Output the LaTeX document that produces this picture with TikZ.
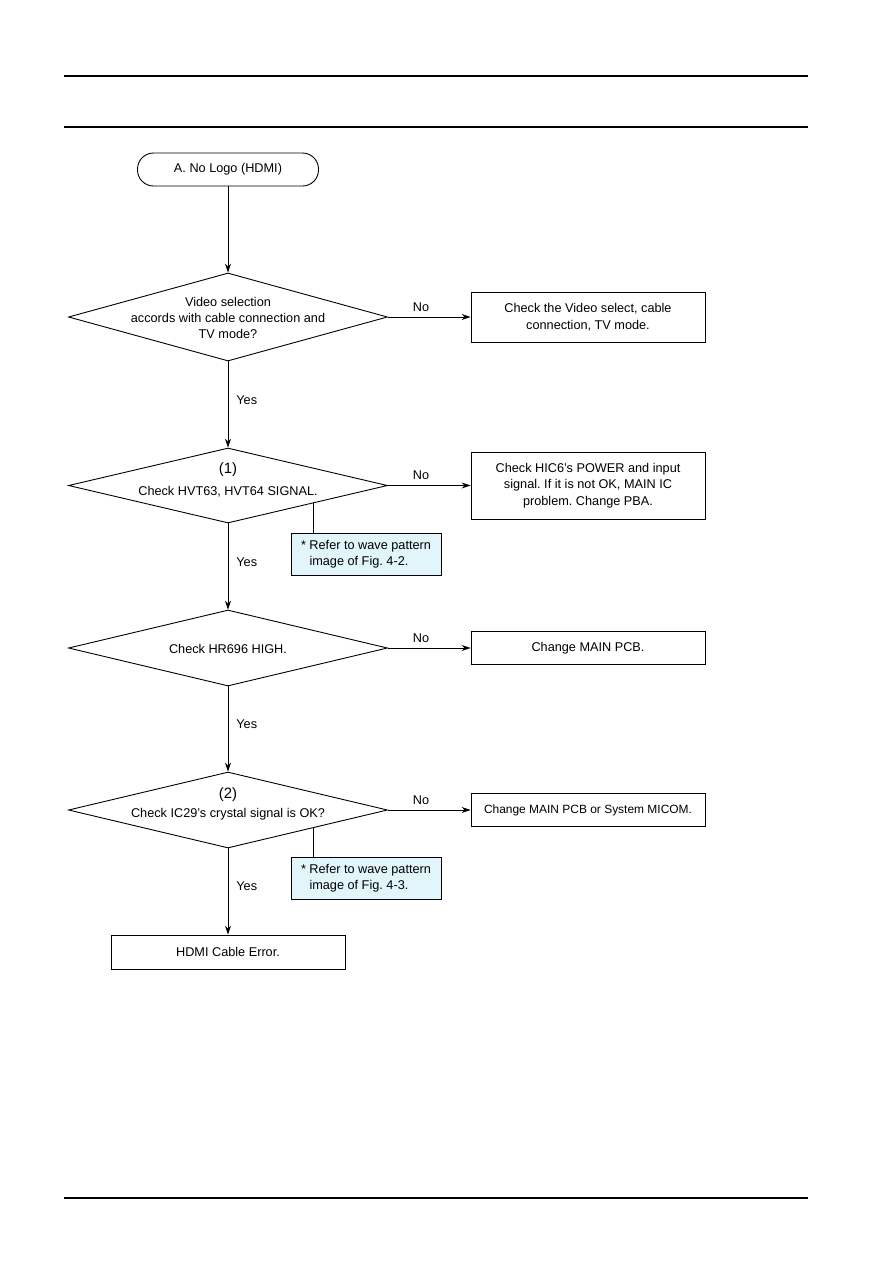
\documentclass[tikz,border=0pt]{standalone}
\usepackage{fontspec}
\setmainfont{Liberation Sans}
\usetikzlibrary{shapes.geometric,calc,arrows.meta}
\frenchspacing
\newdimen\pxu \pxu=0.23516mm
\definecolor{notefill}{RGB}{226,245,251}
\tikzset{
  box/.style={draw, rectangle, minimum width=234*\pxu, align=center, inner sep=2pt},
  startbox/.style={draw, rounded corners=16*\pxu, minimum width=181*\pxu, minimum height=33*\pxu},
  decision/.style={draw, diamond, minimum width=319*\pxu, inner sep=0pt},
  note/.style={draw, fill=notefill, minimum width=150*\pxu, minimum height=42*\pxu, align=left, inner sep=2pt},
  yes/.style={right, xshift=3*\pxu},
  rule/.style={line width=0.9pt}
}
\begin{document}
\begin{tikzpicture}[x=\pxu, y=-\pxu, >={Stealth[length=6pt,width=4pt]}, line width=0.6pt, font=\fontsize{8.5}{11}\selectfont]
    \useasboundingbox (0,0) rectangle (893,1263);
    % page rules
    \draw[rule] (64,76) -- (808,76);
    \draw[rule] (64,127) -- (808,127);
    \draw[rule] (64,1198) -- (808,1198);
    % nodes
    \node[startbox] (start) at (228,169.5) {A. No Logo (HDMI)};
    \node[decision, minimum height=88*\pxu] (d1) at (228,317) {};
    \node[align=center] (q1) at (228,318) {Video selection\\accords with cable connection and\\TV mode?};
    \node[box, minimum height=50*\pxu] (b1) at (588,317) {Check the Video select, cable\\connection, TV mode.};
    \node[decision, minimum height=75*\pxu] (d2) at (228,485.5) {};
    \node[align=center] (q2) at (228,480) {{\fontsize{10}{11}\selectfont(1)}\\[4pt]Check HVT63, HVT64 SIGNAL.};
    \node[box, minimum height=67*\pxu] (b2) at (588,485.5) {Check HIC6's POWER and input\\signal. If it is not OK, MAIN IC\\problem. Change PBA.};
    \node[note] (n1) at (366,554) {*~Refer to wave pattern\\\hphantom{*~}image of Fig. 4-2.};
    \node[decision, minimum height=76*\pxu] (d3) at (228,648) {};
    \node (q3) at (228,649) {Check HR696 HIGH.};
    \node[box, minimum height=33*\pxu] (b3) at (588,648) {Change MAIN PCB.};
    \node[decision, minimum height=76*\pxu] (d4) at (228,810) {};
    \node[align=center] (q4) at (228,804) {{\fontsize{10}{11}\selectfont(2)}\\[2pt]Check IC29's crystal signal is OK?};
    \node[box, minimum height=33*\pxu] (b4) at (588,810) {\fontsize{8}{10}\selectfont Change MAIN PCB or System MICOM.};
    \node[note] (n2) at (366,878) {*~Refer to wave pattern\\\hphantom{*~}image of Fig. 4-3.};
    \node[box, minimum height=34*\pxu] (end) at (228,952) {HDMI Cable Error.};
    % connectors
    \draw[->] (start) -- (d1);
    \draw[->] (d1) -- node[above, pos=.4] {No} (b1);
    \draw[->] (d1) -- node[yes, pos=.45] {Yes} (d2);
    \draw[->] (d2) -- node[above, pos=.4] {No} (b2);
    \draw[->] (d2) -- node[yes, pos=.45] {Yes} (d3);
    \draw[->] (d3) -- node[above, pos=.4] {No} (b3);
    \draw[->] (d3) -- node[yes, pos=.44] {Yes} (d4);
    \draw[->] (d4) -- node[above, pos=.4] {No} (b4);
    \draw[->] (d4) -- node[yes, pos=.44] {Yes} (end);
    \coordinate (t1) at ($(d2.east)!.465!(d2.south)$);
    \coordinate (t2) at ($(d4.east)!.465!(d4.south)$);
    \draw (t1) -- (t1 |- n1.north);
    \draw (t2) -- (t2 |- n2.north);
\end{tikzpicture}
\end{document}
